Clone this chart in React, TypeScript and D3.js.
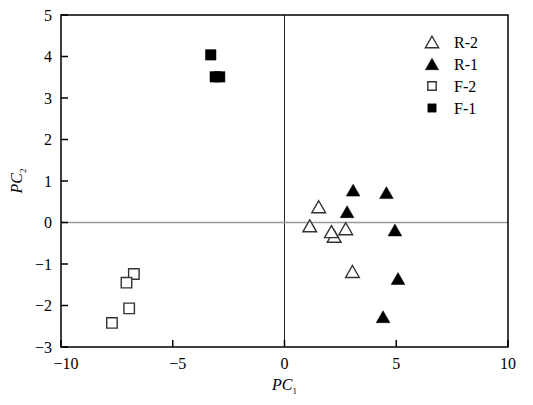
import React, { useEffect, useRef } from "react";
import * as d3 from "d3";

// PCA scores
const r2X = [1.53, 1.13, 2.22, 2.1, 2.74, 3.04];
const r2Y = [0.38, -0.08, -0.33, -0.22, -0.15, -1.18];
const r1X = [3.07, 4.56, 2.8, 4.94, 5.08, 4.41];
const r1Y = [0.78, 0.72, 0.26, -0.18, -1.35, -2.27];
const f2X = [-6.74, -7.07, -6.95, -7.72];
const f2Y = [-1.24, -1.45, -2.07, -2.42];
const f1X = [-3.3, -3.1, -2.9];
const f1Y = [4.04, 3.51, 3.51];

const xTicks = [-10, -5, 0, 5, 10];
const yTicks = [-3, -2, -1, 0, 1, 2, 3, 4, 5];
const legendLabels = ["R-2", "R-1", "F-2", "F-1"];

// triangle centred on its bounding box
const tri = {
  draw(ctx: any, size: number) {
    const w = Math.sqrt(size) * 1.5;
    const h = w * 0.87;
    ctx.moveTo(0, -h / 2);
    ctx.lineTo(w / 2, h / 2);
    ctx.lineTo(-w / 2, h / 2);
    ctx.closePath();
  },
};

const App = () => {
  const ref = useRef<SVGSVGElement>(null);

  useEffect(() => {
    const svg = d3.select(ref.current);
    svg.selectAll("*").remove();

    const left = 61, right = 508, top = 15, bottom = 347;
    const x = d3.scaleLinear().domain([-10, 10]).range([left, right]);
    const y = d3.scaleLinear().domain([-3, 5]).range([bottom, top]);
    const font = "'Liberation Serif', 'Times New Roman', serif";

    // zero lines
    svg.append("line")
      .attr("x1", x(0)).attr("x2", x(0)).attr("y1", top).attr("y2", bottom)
      .attr("stroke", "#222").attr("stroke-width", 1);
    svg.append("line")
      .attr("x1", left).attr("x2", right).attr("y1", y(0)).attr("y2", y(0))
      .attr("stroke", "#999").attr("stroke-width", 1.5);

    // ticks, inward
    svg.selectAll(".xt").data(xTicks).enter().append("line")
      .attr("x1", (d) => x(d)).attr("x2", (d) => x(d))
      .attr("y1", bottom).attr("y2", bottom - 7)
      .attr("stroke", "#000").attr("stroke-width", 1.5);
    svg.selectAll(".yt").data(yTicks).enter().append("line")
      .attr("x1", left).attr("x2", left + 7)
      .attr("y1", (d) => y(d)).attr("y2", (d) => y(d))
      .attr("stroke", "#000").attr("stroke-width", 1.5);

    // frame
    svg.append("rect")
      .attr("x", left).attr("y", top)
      .attr("width", right - left).attr("height", bottom - top)
      .attr("fill", "none").attr("stroke", "#000").attr("stroke-width", 1.5);

    const fmt = (d: number) => (d < 0 ? "\u2212" + Math.abs(d) : String(d));

    svg.selectAll(".xl").data(xTicks).enter().append("text")
      .attr("x", (d) => x(d) + (d < 0 ? 5 : 0)).attr("y", 369)
      .attr("text-anchor", "middle")
      .attr("font-family", font).attr("font-size", 16)
      .text(fmt);
    svg.selectAll(".yl").data(yTicks).enter().append("text")
      .attr("x", 52).attr("y", (d) => y(d) + 5.5)
      .attr("text-anchor", "end")
      .attr("font-family", font).attr("font-size", 16)
      .text(fmt);

    // axis titles
    const xt = svg.append("text")
      .attr("x", x(0)).attr("y", 390)
      .attr("text-anchor", "middle")
      .attr("font-family", font).attr("font-size", 16).attr("font-style", "italic");
    xt.append("tspan").text("PC");
    xt.append("tspan").attr("font-size", 9).attr("dy", 4).attr("font-style", "normal").text("1");

    const yt = svg.append("text")
      .attr("transform", `translate(22, ${(top + bottom) / 2}) rotate(-90)`)
      .attr("text-anchor", "middle")
      .attr("font-family", font).attr("font-size", 16).attr("font-style", "italic");
    yt.append("tspan").text("PC");
    yt.append("tspan").attr("font-size", 9).attr("dy", 4).attr("font-style", "normal").text("2");

    const triPath = d3.symbol().type(tri as any).size(84)();
    const sqPath = d3.symbol().type(d3.symbolSquare).size(110)();

    const series = [
      { xs: f2X, ys: f2Y, path: sqPath, filled: false },
      { xs: f1X, ys: f1Y, path: sqPath, filled: true },
      { xs: r1X, ys: r1Y, path: triPath, filled: true },
      { xs: r2X, ys: r2Y, path: triPath, filled: false },
    ];

    series.forEach((s) => {
      svg.append("g").selectAll("path")
        .data(s.xs.map((v, i) => [v, s.ys[i]]))
        .enter().append("path")
        .attr("d", s.path)
        .attr("transform", (d) => `translate(${x(d[0])}, ${y(d[1])})`)
        .attr("fill", s.filled ? "#000" : "#fff")
        .attr("stroke", s.filled ? "#000" : "#333")
        .attr("stroke-width", s.filled ? 0.5 : 1.4);
    });

    // legend
    const legendMarks = [
      { path: d3.symbol().type(tri as any).size(78)(), filled: false },
      { path: d3.symbol().type(tri as any).size(78)(), filled: true },
      { path: d3.symbol().type(d3.symbolSquare).size(70)(), filled: false },
      { path: d3.symbol().type(d3.symbolSquare).size(70)(), filled: true },
    ];
    const lg = svg.append("g").attr("transform", "translate(432, 42)");
    legendLabels.forEach((lab, i) => {
      const m = legendMarks[i];
      lg.append("path")
        .attr("d", m.path)
        .attr("transform", `translate(0, ${i * 22})`)
        .attr("fill", m.filled ? "#000" : "#fff")
        .attr("stroke", m.filled ? "#000" : "#333")
        .attr("stroke-width", m.filled ? 0.5 : 1.4);
      lg.append("text")
        .attr("x", 22).attr("y", i * 22 + 5.5)
        .attr("font-family", font).attr("font-size", 16)
        .text(lab);
    });
  });

  return (
    <svg
      ref={ref}
      width={533}
      height={405}
      style={{ position: "absolute", left: 0, top: 0, background: "#fff" }}
    />
  );
};

export default App;
